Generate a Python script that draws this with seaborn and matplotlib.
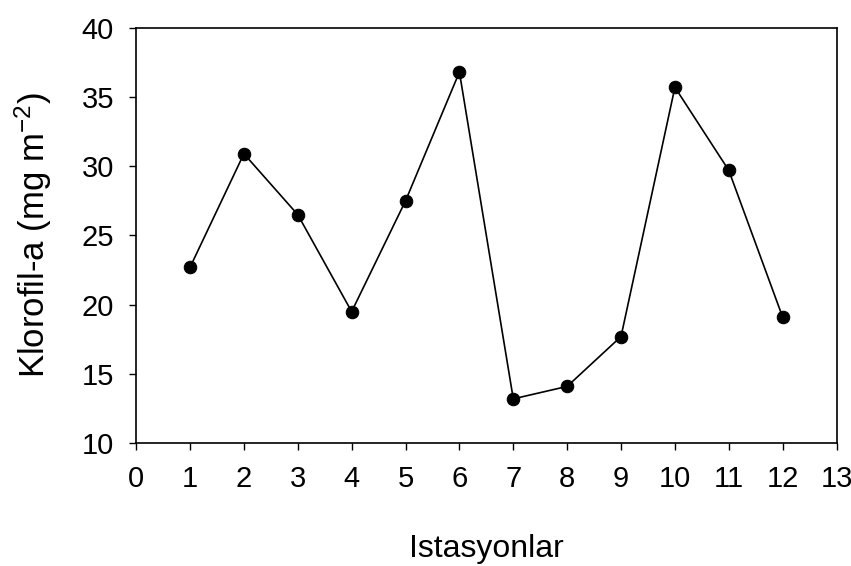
import matplotlib
matplotlib.use("Agg")
import matplotlib.pyplot as plt
import seaborn as sns
import pandas as pd

# Station numbers and chlorophyll-a concentrations
stations = [1, 2, 3, 4, 5, 6, 7, 8, 9, 10, 11, 12]
chl_a = [22.7, 30.9, 26.5, 19.5, 27.5, 36.8, 13.2, 14.1, 17.7, 35.7, 29.7, 19.1]

x_ticks = list(range(0, 14))
y_ticks = [10, 15, 20, 25, 30, 35, 40]

df = pd.DataFrame({"Istasyon": stations, "Klorofil": chl_a})

sns.set_theme(style="ticks")
plt.rcParams["font.family"] = ["Liberation Sans", "DejaVu Sans"]
plt.rcParams["mathtext.fontset"] = "custom"
plt.rcParams["mathtext.rm"] = "Liberation Sans"
plt.rcParams["mathtext.it"] = "Liberation Sans"

fig = plt.figure(figsize=(8.51, 5.66), dpi=100)
ax = fig.add_axes([0.160, 0.217, 0.823, 0.734])

sns.lineplot(data=df, x="Istasyon", y="Klorofil", ax=ax, color="black",
             linewidth=1.2, marker="o", markersize=9, markeredgecolor="black",
             markerfacecolor="black")

ax.set_xlim(0, 13)
ax.set_ylim(10, 40)
ax.set_xticks(x_ticks)
ax.set_yticks(y_ticks)

for s in ax.spines.values():
    s.set_visible(True)
    s.set_color("black")
    s.set_linewidth(1.2)

ax.tick_params(axis="x", direction="out", length=5, width=1.0, pad=11,
               labelsize=21, colors="black")
ax.tick_params(axis="y", direction="out", length=5, width=1.0, pad=11,
               labelsize=21, colors="black")

ax.set_xlabel("Istasyonlar", fontsize=23, labelpad=29, color="black")
ax.set_ylabel("Klorofil-a (mg m$^{\\mathrm{-2}}$)", fontsize=25, labelpad=20,
              color="black")

fig.savefig("out.png", dpi=100, facecolor="white")
